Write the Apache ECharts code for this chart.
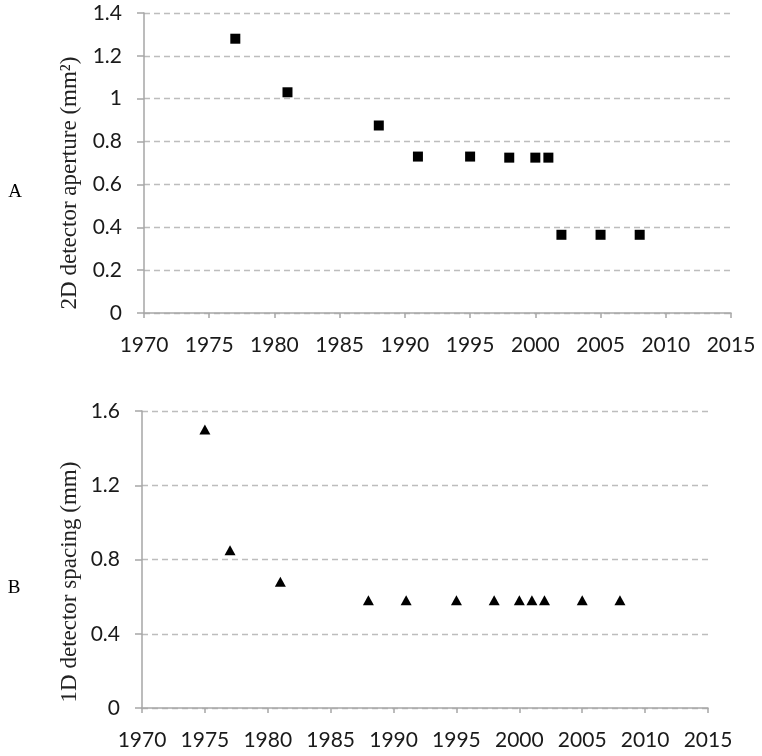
<!DOCTYPE html>
<html>
<head>
<meta charset="utf-8">
<script src="https://cdn.jsdelivr.net/npm/echarts@6/dist/echarts.min.js"></script>
<style>
html,body{margin:0;padding:0;background:#fff;}
#chart{width:762px;height:756px;}
</style>
</head>
<body>
<div id="chart"></div>
<script>
// ---- data ----
var yearsA = [1977, 1981, 1988, 1991, 1995, 1998, 2000, 2001, 2002, 2005, 2008];
var apertureA = [1.28, 1.03, 0.875, 0.73, 0.73, 0.725, 0.725, 0.725, 0.365, 0.365, 0.365];
var yearsB = [1975, 1977, 1981, 1988, 1991, 1995, 1998, 2000, 2001, 2002, 2005, 2008];
var spacingB = [1.5, 0.85, 0.68, 0.58, 0.58, 0.58, 0.58, 0.58, 0.58, 0.58, 0.58, 0.58];
var xMin = 1970, xMax = 2015, xStep = 5;
var yA = {min: 0, max: 1.4, step: 0.2};
var yB = {min: 0, max: 1.6, step: 0.4};
var titleA = '2D detector aperture (mm\u00B2)';
var titleB = '1D detector spacing (mm)';
var panelA = 'A', panelB = 'B';

function pairs(xs, ys) { return xs.map(function (x, i) { return [x, ys[i]]; }); }

var tickFont = {fontFamily: 'Lato', fontSize: 21, color: '#1a1a1a'};
var axisGrey = '#a6a6a6';

function xAxis(gi) {
  return {
    type: 'value', gridIndex: gi, min: xMin, max: xMax, interval: xStep,
    axisLine: {show: true, lineStyle: {color: axisGrey, width: 1.5}},
    axisTick: {show: true, length: 5, lineStyle: {color: axisGrey, width: 1.5}},
    axisLabel: Object.assign({margin: 22, formatter: function (v) { return String(v); }}, tickFont),
    splitLine: {show: false}
  };
}
function yAxis(gi, r) {
  return {
    type: 'value', gridIndex: gi, min: r.min, max: r.max, interval: r.step,
    axisLine: {show: true, lineStyle: {color: axisGrey, width: 1.5}},
    axisTick: {show: true, length: 7, lineStyle: {color: axisGrey, width: 1.5}},
    axisLabel: Object.assign({margin: 22}, tickFont),
    splitLine: {show: true, lineStyle: {color: '#bdbdbd', width: 1.3, type: [6, 4]}}
  };
}

var chart = echarts.init(document.getElementById('chart'), null, {renderer: 'canvas'});
chart.setOption({
  backgroundColor: '#ffffff',
  animation: false,
  grid: [
    {left: 144, right: 31, top: 13, bottom: 443},
    {left: 142, right: 54, top: 411, bottom: 48}
  ],
  xAxis: [xAxis(0), xAxis(1)],
  yAxis: [yAxis(0, yA), yAxis(1, yB)],
  series: [
    {type: 'scatter', xAxisIndex: 0, yAxisIndex: 0, data: pairs(yearsA, apertureA),
     symbol: 'rect', symbolSize: 10, itemStyle: {color: '#000', opacity: 1}},
    {type: 'scatter', xAxisIndex: 1, yAxisIndex: 1, data: pairs(yearsB, spacingB),
     symbol: 'triangle', symbolSize: [11, 10], itemStyle: {color: '#000', opacity: 1}}
  ],
  graphic: [
    {type: 'text', x: 70, y: 183, rotation: Math.PI / 2,
     style: {text: titleA, fontFamily: 'Liberation Serif', fontSize: 23, fill: '#222',
             textAlign: 'center', textVerticalAlign: 'middle'}},
    {type: 'text', x: 70, y: 582, rotation: Math.PI / 2,
     style: {text: titleB, fontFamily: 'Liberation Serif', fontSize: 23, fill: '#222',
             textAlign: 'center', textVerticalAlign: 'middle'}},
    {type: 'text', x: 15, y: 192,
     style: {text: panelA, fontFamily: 'Liberation Serif', fontSize: 19, fill: '#000',
             textAlign: 'center', textVerticalAlign: 'middle'}},
    {type: 'text', x: 14, y: 588,
     style: {text: panelB, fontFamily: 'Liberation Serif', fontSize: 19, fill: '#000',
             textAlign: 'center', textVerticalAlign: 'middle'}}
  ]
});
</script>
</body>
</html>
